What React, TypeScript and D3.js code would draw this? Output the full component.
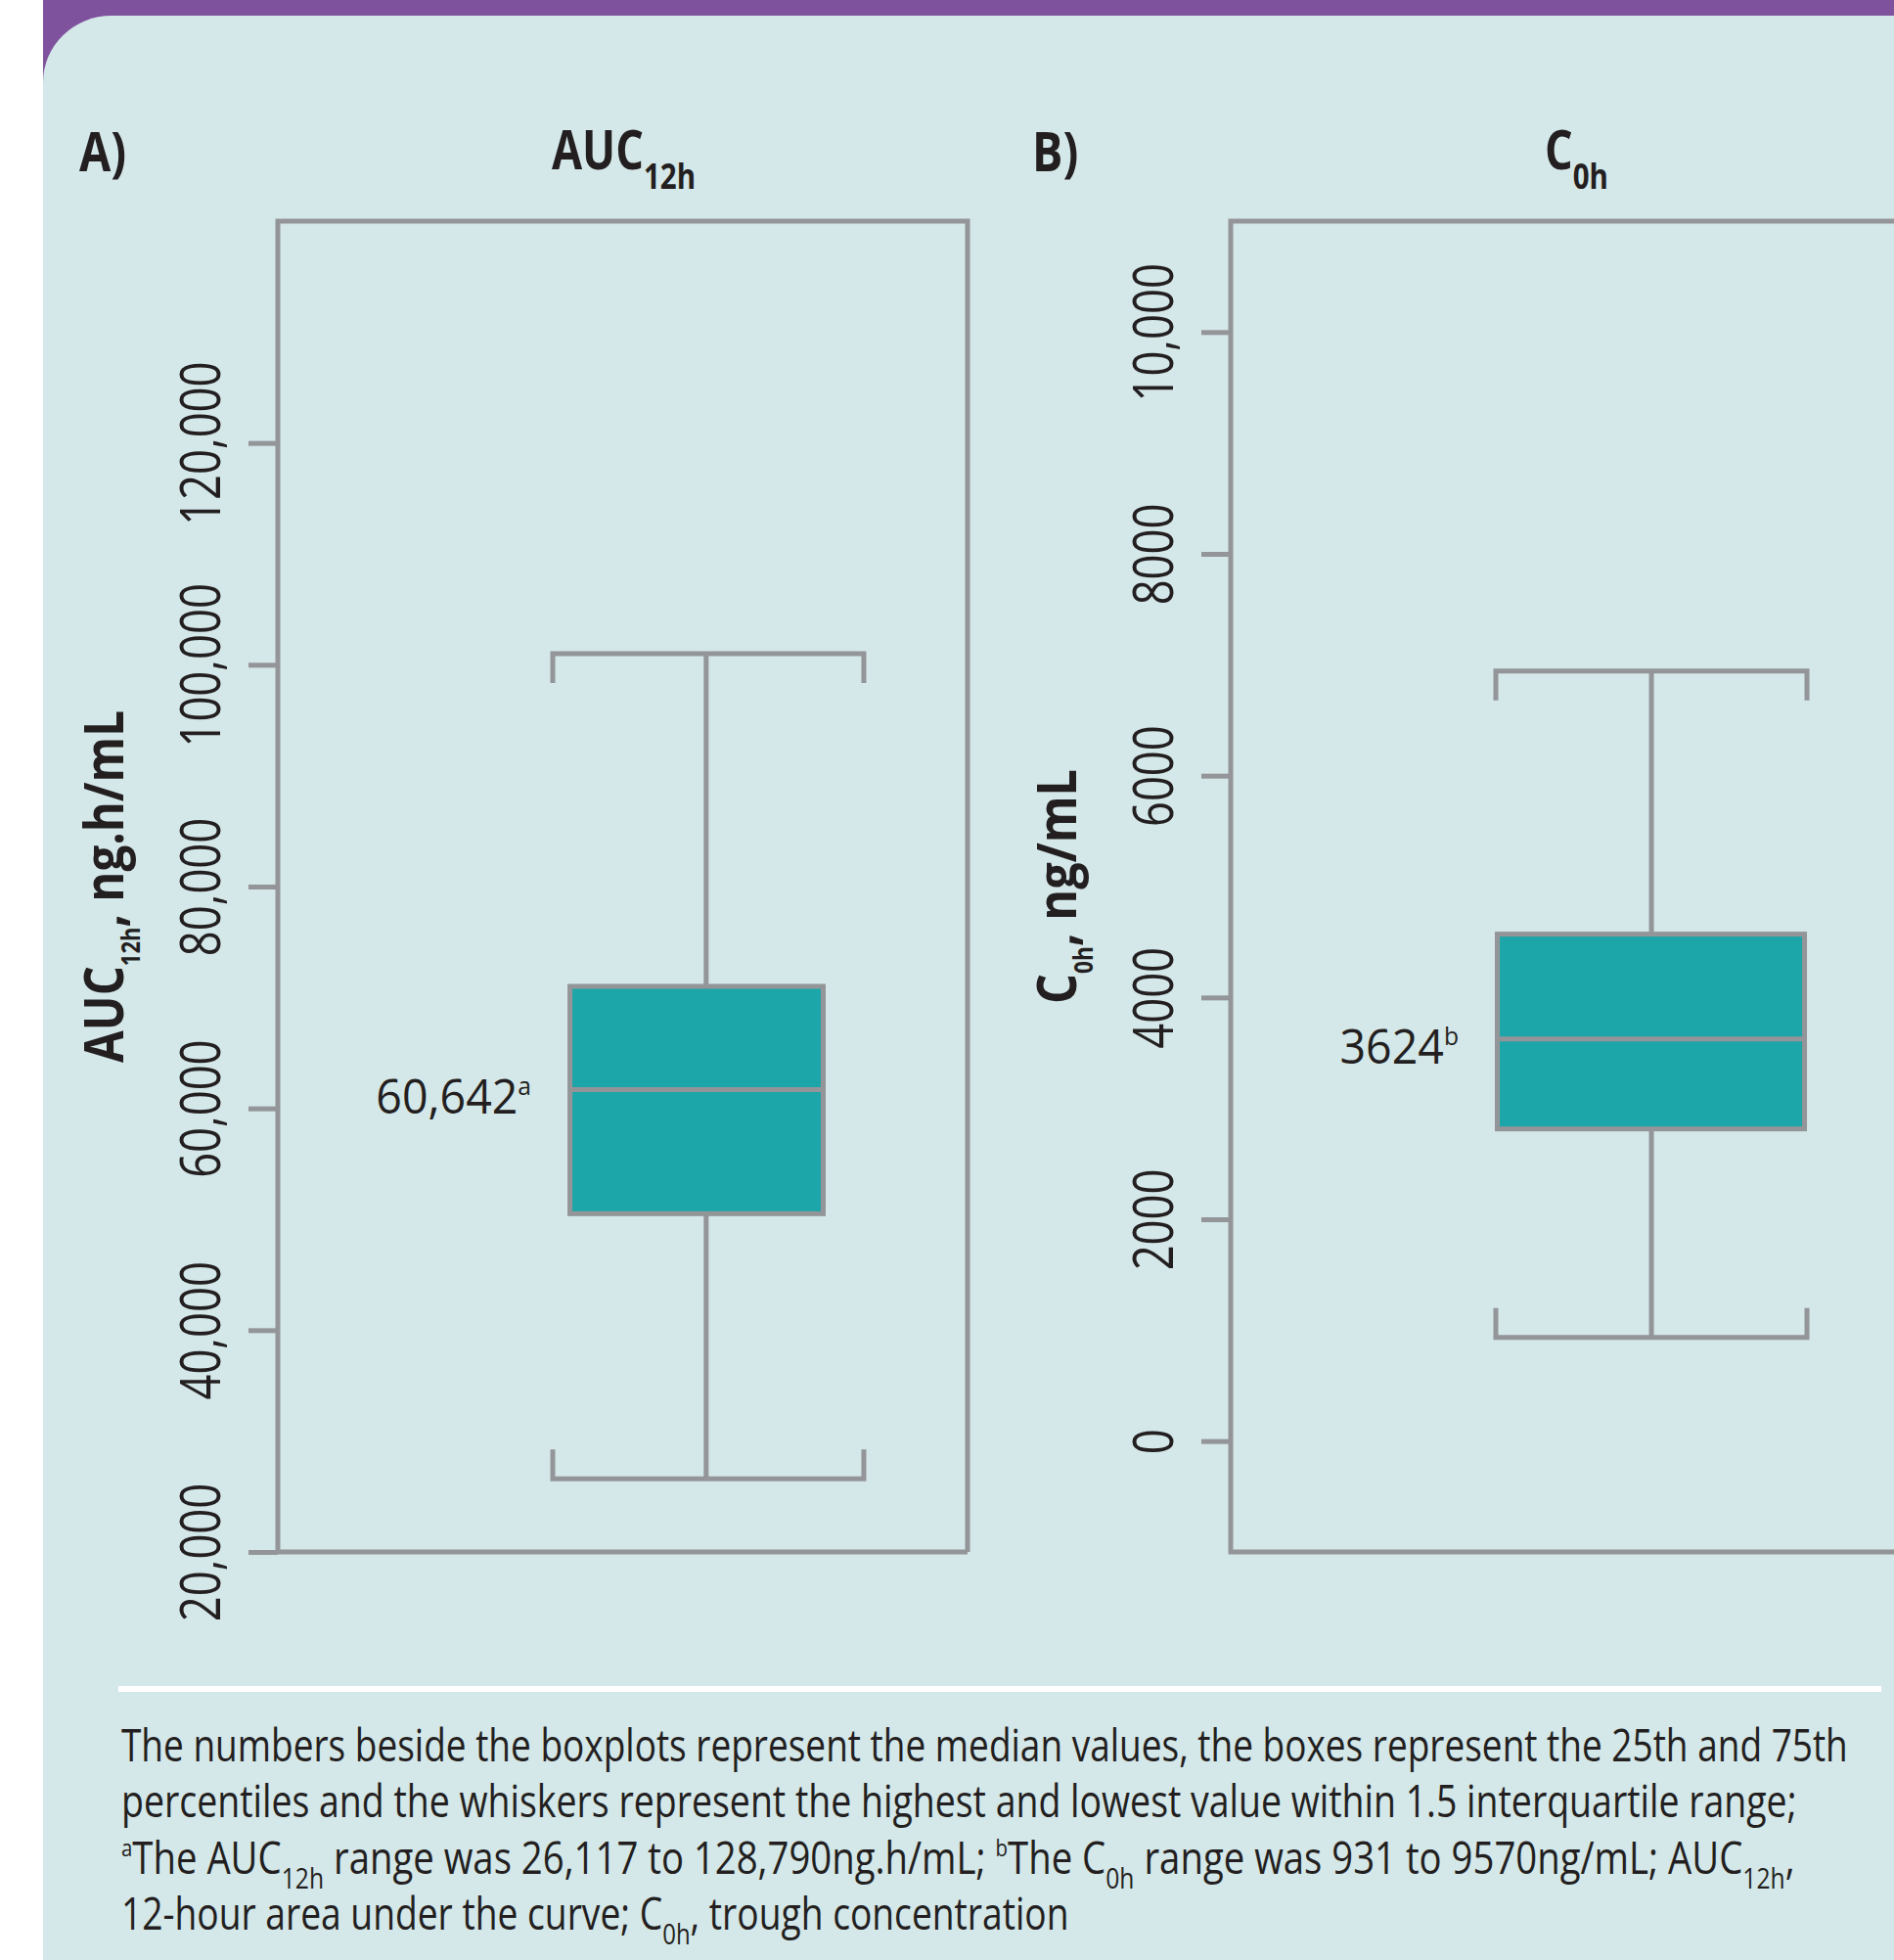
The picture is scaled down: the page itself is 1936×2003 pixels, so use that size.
import React, { useEffect, useLayoutEffect, useRef, useState } from "react";
import * as d3 from "d3";

// ---- data ----
const panelLetters = ["A)", "B)"];
const panelTitleMain = ["AUC", "C"];
const panelTitleSub = ["12h", "0h"];
const axisTitleMain = ["AUC", "C"];
const axisTitleSub = ["12h", "0h"];
const axisTitleUnit = [", ng.h/mL", ", ng/mL"];

// [lower whisker, Q1, median, Q3, upper whisker]
const aucStats = [26600, 50500, 61700, 71000, 101000];
const c0hStats = [935, 2815, 3626, 4571, 6944];
const medianLabels = ["60,642", "3624"];
const medianMarks = ["a", "b"];

const aucDomain = [20000, 140000];
const c0hDomain = [-1000, 11000];
const aucTicks = [20000, 40000, 60000, 80000, 100000, 120000];
const aucTickLabels = ["20,000", "40,000", "60,000", "80,000", "100,000", "120,000"];
const c0hTicks = [0, 2000, 4000, 6000, 8000, 10000];
const c0hTickLabels = ["0", "2000", "4000", "6000", "8000", "10,000"];

// ---- style ----
const W = 1936;
const H = 2003;
const BG = "#d4e7e9";
const PURPLE = "#7f529d";
const GRAY = "#939598";
const TEAL = "#1da6a9";
const INK = "#231f20";
const FONT = "'Open Sans', 'Liberation Sans', sans-serif";

const TOP = 226;
const BOTTOM = 1586;
const PLOT_W = 705;
const LEFTS = [284, 1258];
// relative horizontal layout of the box glyph inside each frame
const layout = [
  { whisker: 0.621, capL: 0.3986, capR: 0.8496, boxL: 0.42, boxR: 0.7943 },
  { whisker: 0.61, capL: 0.3844, capR: 0.8355, boxL: 0.383, boxR: 0.8355 },
];

const panels = [
  { stats: aucStats, domain: aucDomain, ticks: aucTicks, tickLabels: aucTickLabels },
  { stats: c0hStats, domain: c0hDomain, ticks: c0hTicks, tickLabels: c0hTickLabels },
];

// Text squeezed horizontally to an exact width (mimics a condensed face)
function Fit({ target, x, y, rotate = 0, anchor = "start", children, ...rest }: any) {
  const ref = useRef<SVGTextElement>(null);
  const [s, setS] = useState(1);
  useLayoutEffect(() => {
    if (ref.current) {
      const w = ref.current.getBBox().width;
      if (w > 0) setS(target / w);
    }
  }, [target]);
  return (
    <g transform={`translate(${x},${y}) rotate(${rotate}) scale(${s},1)`}>
      <text ref={ref} x={0} y={0} textAnchor={anchor} {...rest}>
        {children}
      </text>
    </g>
  );
}

function Axis({ scale, left, ticks, labels }: any) {
  const ref = useRef<SVGGElement>(null);
  useEffect(() => {
    const g = d3.select(ref.current);
    g.selectAll("*").remove();
    const axis = d3
      .axisLeft(scale)
      .tickValues(ticks)
      .tickFormat((d: any, i: number) => labels[i])
      .tickSize(30)
      .tickPadding(0);
    g.call(axis as any);
    g.select(".domain").remove();
    g.selectAll(".tick line").attr("stroke", GRAY).attr("stroke-width", 5);
    g.selectAll(".tick text")
      .attr("x", null)
      .attr("dy", null)
      .attr("fill", INK)
      .attr("font-family", FONT)
      .attr("font-size", 56)
      .attr("text-anchor", "middle")
      .attr("transform", "translate(-59,0) rotate(-90) scale(0.81,1)");
  }, [scale, ticks, labels]);
  return <g ref={ref} transform={`translate(${left},0)`} fontFamily={FONT} />;
}

function Panel({ idx }: { idx: number }) {
  const p = panels[idx];
  const left = LEFTS[idx];
  const lay = layout[idx];
  const y = d3.scaleLinear().domain(p.domain).range([BOTTOM, TOP]);
  const x = d3.scaleLinear().domain([0, 1]).range([left, left + PLOT_W]);
  const [lo, q1, med, q3, hi] = p.stats;
  const cx = x(lay.whisker);
  const capL = x(lay.capL);
  const capR = x(lay.capR);
  const boxL = x(lay.boxL);
  const boxR = x(lay.boxR);
  const serif = 30;
  const sw = 5;
  const centre = left + PLOT_W / 2;
  return (
    <g>
      <path
        d={`M${left + PLOT_W},${BOTTOM} H${left} V${TOP} H${left + PLOT_W} V${BOTTOM}`}
        fill="none"
        stroke={GRAY}
        strokeWidth={sw}
      />
      <Axis scale={y} left={left} ticks={p.ticks} labels={p.tickLabels} />
      <line x1={cx} x2={cx} y1={y(hi)} y2={y(q3)} stroke={GRAY} strokeWidth={sw} />
      <line x1={cx} x2={cx} y1={y(q1)} y2={y(lo)} stroke={GRAY} strokeWidth={sw} />
      <path
        d={`M${capL},${y(hi) + serif} V${y(hi)} H${capR} V${y(hi) + serif}`}
        fill="none"
        stroke={GRAY}
        strokeWidth={sw}
      />
      <path
        d={`M${capL},${y(lo) - serif} V${y(lo)} H${capR} V${y(lo) - serif}`}
        fill="none"
        stroke={GRAY}
        strokeWidth={sw}
      />
      <rect
        x={boxL + sw / 2}
        y={y(q3)}
        width={boxR - boxL - sw}
        height={y(q1) - y(q3)}
        fill={TEAL}
        stroke={GRAY}
        strokeWidth={sw}
      />
      <line x1={boxL + sw / 2} x2={boxR - sw / 2} y1={y(med)} y2={y(med)} stroke={GRAY} strokeWidth={sw} />
      <text
        transform={`translate(${boxL - 37},${y(med) + 25}) scale(0.95,1)`}
        textAnchor="end"
        fontFamily={FONT}
        fontSize={49}
        fill={INK}
      >
        {medianLabels[idx]}
        <tspan fontSize={26} dy={-19}>
          {medianMarks[idx]}
        </tspan>
      </text>
      <text
        transform={`translate(${left - 203},175) scale(0.85,1)`}
        fontFamily={FONT}
        fontWeight={700}
        fontSize={55}
        fill={INK}
      >
        {panelLetters[idx]}
      </text>
      <text
        transform={`translate(${centre + 1},173) scale(0.82,1)`}
        textAnchor="middle"
        fontFamily={FONT}
        fontWeight={700}
        fontSize={55}
        fill={INK}
      >
        {panelTitleMain[idx]}
        <tspan fontSize={36} dy={20}>
          {panelTitleSub[idx]}
        </tspan>
      </text>
      <Fit
        target={idx === 0 ? 360 : 240}
        x={left - 158}
        y={(TOP + BOTTOM) / 2}
        rotate={-90}
        anchor="middle"
        fontFamily={FONT}
        fontWeight={700}
        fontSize={56}
        fill={INK}
      >
        {axisTitleMain[idx]}
        <tspan fontSize={26} dy={17}>
          {axisTitleSub[idx]}
        </tspan>
        <tspan dy={-17}>{axisTitleUnit[idx]}</tspan>
      </Fit>
    </g>
  );
}

const footLines = [
  "The numbers beside the boxplots represent the median values, the boxes represent the 25th and 75th",
  "percentiles and the whiskers represent the highest and lowest value within 1.5 interquartile range;",
];

function Footer() {
  const sub = 29;
  const sup = 24;
  const common = { fontFamily: FONT, fontSize: 45, fill: INK };
  return (
    <g>
      <rect x={121} y={1723} width={1802} height={6} fill="#ffffff" />
      <Fit target={1765} x={124} y={1800} {...common}>
        {footLines[0]}
      </Fit>
      <Fit target={1713} x={124} y={1857} {...common}>
        {footLines[1]}
      </Fit>
      <Fit target={1711} x={124} y={1915} {...common}>
        <tspan fontSize={sup} dy={-18}>a</tspan>
        <tspan dy={18}>The AUC</tspan>
        <tspan fontSize={sub} dy={15}>12h</tspan>
        <tspan dy={-15}> range was 26,117 to 128,790ng.h/mL; </tspan>
        <tspan fontSize={sup} dy={-18}>b</tspan>
        <tspan dy={18}>The C</tspan>
        <tspan fontSize={sub} dy={15}>0h</tspan>
        <tspan dy={-15}> range was 931 to 9570ng/mL; AUC</tspan>
        <tspan fontSize={sub} dy={15}>12h</tspan>
        <tspan dy={-15}>,</tspan>
      </Fit>
      <Fit target={969} x={124} y={1972} {...common}>
        <tspan>12-hour area under the curve; C</tspan>
        <tspan fontSize={sub} dy={15}>0h</tspan>
        <tspan dy={-15}>, trough concentration</tspan>
      </Fit>
    </g>
  );
}

export default function App() {
  useEffect(() => {
    document.body.style.margin = "0";
  }, []);
  return (
    <svg
      width={W}
      height={H}
      viewBox={`0 0 ${W} ${H}`}
      style={{ position: "absolute", left: 0, top: 0, display: "block", background: "#ffffff" }}
    >
      <rect x={44} y={0} width={W - 44} height={120} fill={PURPLE} />
      <path d={`M44,${H} V84 A70 68 0 0 1 114,16 H${W} V${H} Z`} fill={BG} />
      <Panel idx={0} />
      <Panel idx={1} />
      <Footer />
    </svg>
  );
}
